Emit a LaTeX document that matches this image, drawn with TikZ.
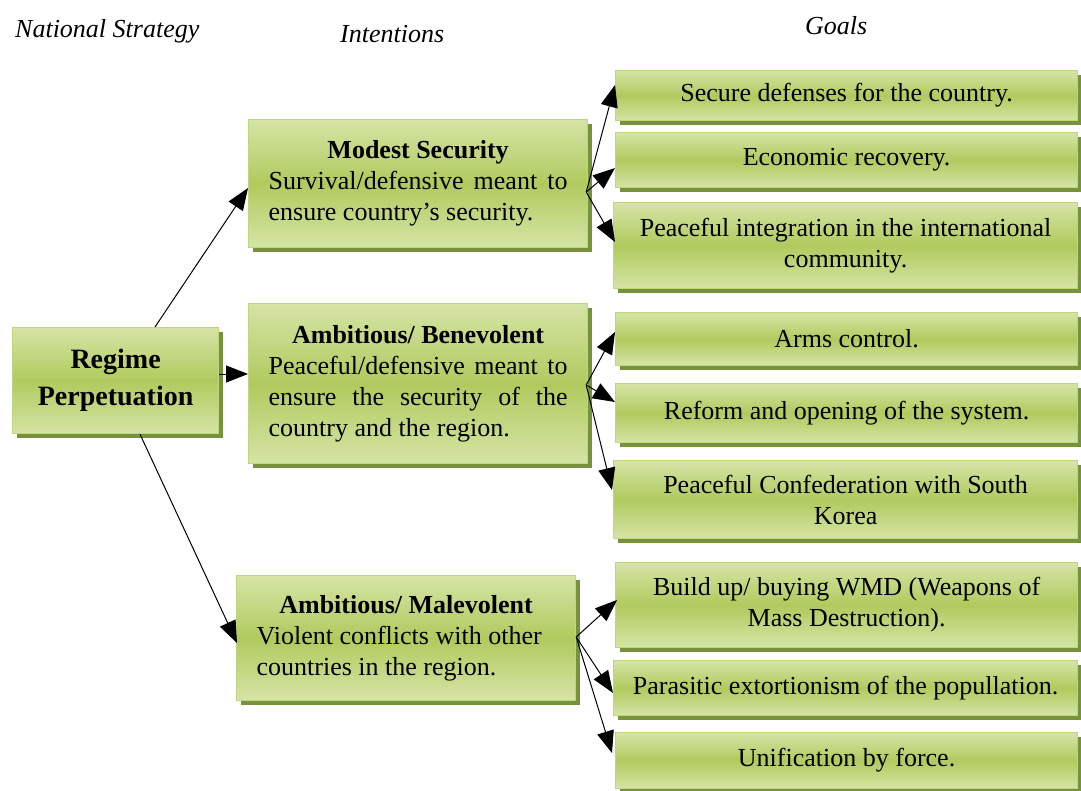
\documentclass[tikz,border=0pt]{standalone}
\usepackage{fontspec}
\setmainfont{Liberation Serif}
\usetikzlibrary{arrows.meta,shadows,calc}
\definecolor{boxlight}{HTML}{D6E4A6}
\definecolor{boxmid}{HTML}{B0CA5E}
\definecolor{boxborder}{HTML}{BFD67C}
\definecolor{shadowc}{HTML}{76923C}
\tikzset{
  box/.style={draw=boxborder, line width=1.2pt, top color=boxlight, bottom color=boxlight, middle color=boxmid,
    drop shadow={shadow xshift=4pt, shadow yshift=-4pt, fill=shadowc, opacity=1},
    inner sep=0pt, anchor=north west, align=center, font=\fontsize{26}{31}\selectfont},
  goalbox/.style={box, minimum width=462pt},
  midbox/.style={box, minimum width=339pt},
  arr/.style={line width=1pt, -{Triangle[length=22pt,width=17pt]}},
  head/.style={anchor=base west, inner sep=0pt, font=\fontsize{26}{31}\selectfont\itshape}
}
\begin{document}
\begin{tikzpicture}[x=1pt,y=-1pt]
\useasboundingbox (0,0) rectangle (1081,791);
\fill[white] (0,0) rectangle (1081,791);

% headers
\node[head] (h1) at (15,38) {National Strategy};
\node[head] (h2) at (340,43) {Intentions};
\node[head] (h3) at (805,35) {Goals};

% national strategy
\node[box, minimum width=206pt, minimum height=106pt, font=\fontsize{28}{37}\selectfont\bfseries] (rp) at (12,327) {Regime\\Perpetuation};

% intentions
\node[midbox, minimum height=128pt] (ms) at (248,119)
  {{\bfseries Modest Security}\\
   \makebox[299pt][s]{Survival/defensive meant to}\\
   \makebox[299pt][l]{ensure country’s security.}};
\node[midbox, minimum height=160pt] (ab) at (248,303)
  {{\bfseries Ambitious/ Benevolent}\\
   \makebox[299pt][s]{Peaceful/defensive meant to}\\
   \makebox[299pt][s]{ensure the security of the}\\
   \makebox[299pt][l]{country and the region.}};
\node[midbox, minimum height=125pt] (am) at (236,575)
  {{\bfseries Ambitious/ Malevolent}\\
   \makebox[299pt][l]{Violent conflicts with other}\\
   \makebox[299pt][l]{countries in the region.}};

% goals
\node[goalbox, minimum height=50pt] (g1) at (615,70) {Secure defenses for the country.};
\node[goalbox, minimum height=55pt] (g2) at (615,132) {Economic recovery.};
\node[goalbox, minimum width=464pt, minimum height=86pt] (g3) at (613,202) {Peaceful integration in the international\\community.};
\node[goalbox, minimum height=53pt] (g4) at (615,312) {Arms control.};
\node[goalbox, minimum height=59pt] (g5) at (615,383) {Reform and opening of the system.};
\node[goalbox, minimum width=464pt, minimum height=78pt] (g6) at (613,460) {Peaceful Confederation with South\\Korea};
\node[goalbox, minimum height=85pt] (g7) at (615,562) {Build up/ buying WMD (Weapons of\\Mass Destruction).};
\node[goalbox, minimum width=464pt, minimum height=55pt] (g8) at (613,660) {Parasitic extortionism of the popullation.};
\node[goalbox, minimum height=56pt] (g9) at (615,732) {Unification by force.};

% connectors from regime
\draw[arr] ($(rp.north west)+(143,0)$) -- ($(ms.north west)+(0,69)$);
\draw[arr] ($(rp.north east)+(0,47)$) -- ($(ab.north west)+(0,71)$);
\draw[arr] ($(rp.south west)+(128,0)$) -- ($(am.north west)+(1,68)$);

% branch points
\coordinate (msb) at ($(ms.north east)+(-2,73)$);
\coordinate (abb) at ($(ab.north east)+(-2,82)$);
\coordinate (amb) at ($(am.north east)+(0,62)$);

\draw[arr] (msb) -- ($(g1.north west)+(0,15)$);
\draw[arr] (msb) -- ($(g2.north west)+(0,36)$);
\draw[arr] (msb) -- ($(g3.north west)+(2,40)$);
\draw[arr] (abb) -- ($(g4.north west)+(0,20)$);
\draw[arr] (abb) -- ($(g5.north west)+(0,19)$);
\draw[arr] (abb) -- ($(g6.north west)+(-1,30)$);
\draw[arr] (amb) -- ($(g7.north west)+(2,38)$);
\draw[arr] (amb) -- ($(g8.north west)+(0,33)$);
\draw[arr] (amb) -- ($(g9.north west)+(-3,21)$);
\end{tikzpicture}
\end{document}
